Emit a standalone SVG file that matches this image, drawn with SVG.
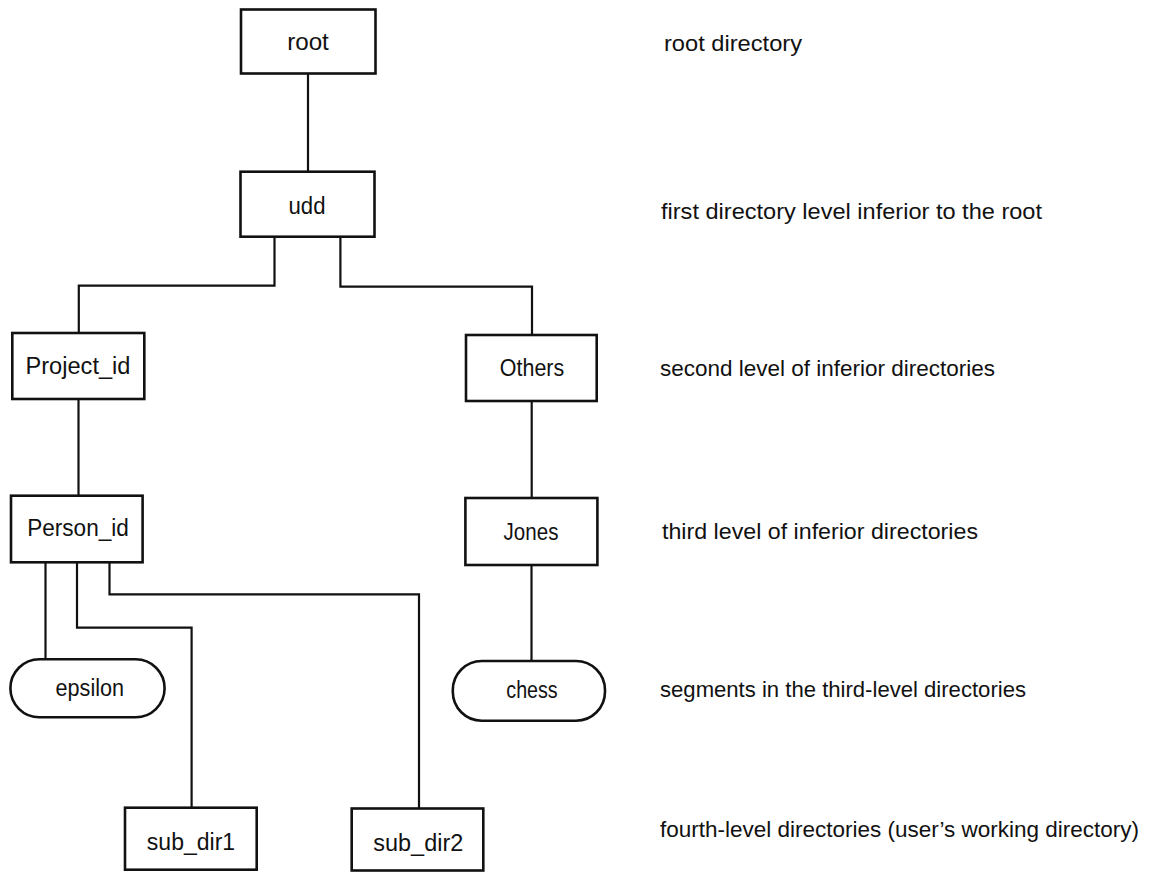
<svg xmlns="http://www.w3.org/2000/svg" width="1154" height="873" viewBox="0 0 1154 873">
<style>
.box{fill:#fff;stroke:#111;stroke-width:2.6}
.conn{fill:none;stroke:#111;stroke-width:2.2}
.lbl{font-family:"Liberation Sans",Arial,sans-serif;font-size:23px;fill:#111;text-anchor:middle}
.note{font-family:"Liberation Sans",Arial,sans-serif;font-size:22px;fill:#111}
</style>
<rect width="1154" height="873" fill="#fff"/>
<g id="connectors">
<path class="conn" d="M308 73.5 V171.7"/>
<path class="conn" d="M274.5 236.7 V285.7 H78.8 V333"/>
<path class="conn" d="M340.4 236.7 V286.7 H532 V335"/>
<path class="conn" d="M78.5 399 V495.7"/>
<path class="conn" d="M531.7 401 V498"/>
<path class="conn" d="M531.5 565 V661"/>
<path class="conn" d="M45.5 562.3 V659.3"/>
<path class="conn" d="M77 562.3 V627.7 H191.6 V807.7"/>
<path class="conn" d="M109.5 562.3 V594.3 H419 V808.5"/>
</g>
<g id="root"><rect class="box" x="241" y="9.5" width="134.5" height="64"/><text class="lbl" x="308" y="49.5" textLength="41.7" lengthAdjust="spacingAndGlyphs">root</text></g>
<g id="udd"><rect class="box" x="240.5" y="171.7" width="134" height="65"/><text class="lbl" x="307" y="214" textLength="37" lengthAdjust="spacingAndGlyphs">udd</text></g>
<g id="project_id"><rect class="box" x="12.3" y="333" width="132" height="66"/><text class="lbl" x="78" y="374" textLength="105" lengthAdjust="spacingAndGlyphs">Project_id</text></g>
<g id="others"><rect class="box" x="466" y="335" width="130.7" height="66"/><text class="lbl" x="532" y="376" textLength="64.3" lengthAdjust="spacingAndGlyphs">Others</text></g>
<g id="person_id"><rect class="box" x="11" y="495.7" width="131.6" height="66.6"/><text class="lbl" x="78" y="536" textLength="101.7" lengthAdjust="spacingAndGlyphs">Person_id</text></g>
<g id="jones"><rect class="box" x="465.4" y="498" width="132" height="67"/><text class="lbl" x="531" y="539.5" textLength="54.8" lengthAdjust="spacingAndGlyphs">Jones</text></g>
<g id="epsilon"><rect class="box" x="10.4" y="659.3" width="154.2" height="58" rx="29" ry="29"/><text class="lbl" x="89.8" y="695.5" textLength="68.5" lengthAdjust="spacingAndGlyphs">epsilon</text></g>
<g id="chess"><rect class="box" x="452.8" y="661" width="152.2" height="59.7" rx="29" ry="29"/><text class="lbl" x="532" y="697.5" textLength="51.4" lengthAdjust="spacingAndGlyphs">chess</text></g>
<g id="sub_dir1"><rect class="box" x="125" y="807.7" width="131.7" height="62"/><text class="lbl" x="191" y="849.5" textLength="88.3" lengthAdjust="spacingAndGlyphs">sub_dir1</text></g>
<g id="sub_dir2"><rect class="box" x="351.7" y="808.5" width="131.6" height="62"/><text class="lbl" x="418.3" y="850.5" textLength="90" lengthAdjust="spacingAndGlyphs">sub_dir2</text></g>
<g id="notes">
<text class="note" x="664" y="51" textLength="138" lengthAdjust="spacingAndGlyphs">root directory</text>
<text class="note" x="661" y="219" textLength="381" lengthAdjust="spacingAndGlyphs">first directory level inferior to the root</text>
<text class="note" x="660" y="376" textLength="335" lengthAdjust="spacingAndGlyphs">second level of inferior directories</text>
<text class="note" x="662" y="539" textLength="316" lengthAdjust="spacingAndGlyphs">third level of inferior directories</text>
<text class="note" x="660" y="697" textLength="366" lengthAdjust="spacingAndGlyphs">segments in the third-level directories</text>
<text class="note" x="660" y="837" textLength="479" lengthAdjust="spacingAndGlyphs">fourth-level directories (user’s working directory)</text>
</g>
</svg>
